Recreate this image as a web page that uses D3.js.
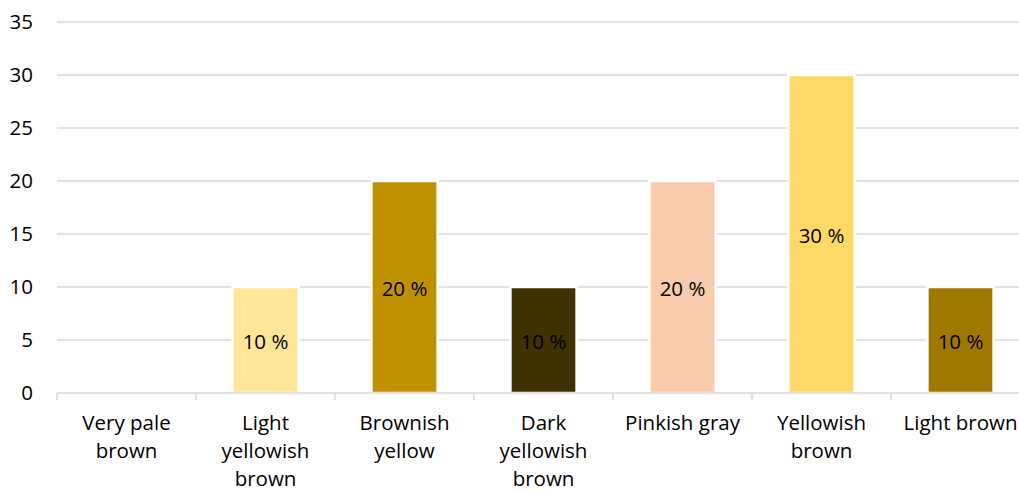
<!DOCTYPE html>
<html>
<head>
<meta charset="utf-8">
<script src="https://cdn.jsdelivr.net/npm/d3@7"></script>
<style>
  html, body { margin: 0; padding: 0; background: #fff; }
  svg text { font-family: "Open Sans", Lato, "Liberation Sans", sans-serif; fill: #000; }
</style>
</head>
<body>
<svg id="chart" width="1019" height="491"></svg>
<script>
// Colour categories and their shares (%)
const categories = ["Very pale brown", "Light yellowish brown", "Brownish yellow",
  "Dark yellowish brown", "Pinkish gray", "Yellowish brown", "Light brown"];
const labelLines = [["Very pale", "brown"], ["Light", "yellowish", "brown"], ["Brownish", "yellow"],
  ["Dark", "yellowish", "brown"], ["Pinkish gray"], ["Yellowish", "brown"], ["Light brown"]];
const values = [0, 10, 20, 10, 20, 30, 10];
const barColors = ["#FFF2CC", "#FFE699", "#BF9000", "#3F3100", "#F8CBAD", "#FFD966", "#9F7800"];
const yTicks = [0, 5, 10, 15, 20, 25, 30, 35];

const svg = d3.select("#chart");
const plot = { left: 57, right: 1030, top: 22, bottom: 393 };
const fontSize = 20.5;

const x = d3.scaleBand().domain(categories).range([plot.left, plot.right])
  .paddingInner(0.524).paddingOuter(0.262);
const step = x.step();
const y = d3.scaleLinear().domain([0, 35]).range([plot.bottom, plot.top]);

// Horizontal gridlines
svg.append("g").selectAll("line").data(yTicks.filter(d => d > 0)).join("line")
  .attr("x1", plot.left).attr("x2", plot.right)
  .attr("y1", d => y(d)).attr("y2", d => y(d))
  .attr("stroke", "#d9d9d9").attr("stroke-width", 1.5);

// Y axis labels
const yAxis = d3.axisLeft(y).tickValues(yTicks).tickSize(0).tickPadding(24);
const gy = svg.append("g").attr("transform", `translate(${plot.left},0)`).call(yAxis);
gy.select(".domain").remove();
gy.selectAll("text").attr("font-size", fontSize).attr("font-family", null);

// Bars
svg.append("g").selectAll("rect").data(categories.map((c, i) => ({ c, v: values[i], col: barColors[i] })))
  .join("rect")
  .filter(d => d.v > 0)
  .attr("x", d => x(d.c)).attr("width", x.bandwidth())
  .attr("y", d => y(d.v)).attr("height", d => y(0) - y(d.v))
  .attr("fill", d => d.col).attr("stroke", "#fff").attr("stroke-width", 2.5);

// Category axis line with boundary ticks
svg.append("line").attr("x1", plot.left).attr("x2", plot.right)
  .attr("y1", plot.bottom).attr("y2", plot.bottom)
  .attr("stroke", "#d9d9d9").attr("stroke-width", 1.5);
svg.append("g").selectAll("line").data(d3.range(categories.length + 1)).join("line")
  .attr("x1", i => plot.left + i * step).attr("x2", i => plot.left + i * step)
  .attr("y1", plot.bottom).attr("y2", plot.bottom + 7)
  .attr("stroke", "#d9d9d9").attr("stroke-width", 1.5);

// Category labels (wrapped)
const cl = svg.append("g").selectAll("text").data(categories).join("text")
  .attr("text-anchor", "middle").attr("font-size", fontSize)
  .attr("transform", d => `translate(${x(d) + x.bandwidth() / 2},430)`);
cl.selectAll("tspan").data((d, i) => labelLines[i]).join("tspan")
  .attr("x", 0).attr("y", (d, j) => j * 28).text(d => d);

// Value labels centred in each bar
svg.append("g").selectAll("text").data(categories.map((c, i) => ({ c, v: values[i] })).filter(d => d.v > 0))
  .join("text")
  .attr("text-anchor", "middle").attr("font-size", fontSize).attr("dominant-baseline", "central")
  .attr("x", d => x(d.c) + x.bandwidth() / 2)
  .attr("y", d => (y(d.v) + y(0)) / 2 + 1)
  .text(d => `${d.v} %`);
</script>
</body>
</html>
